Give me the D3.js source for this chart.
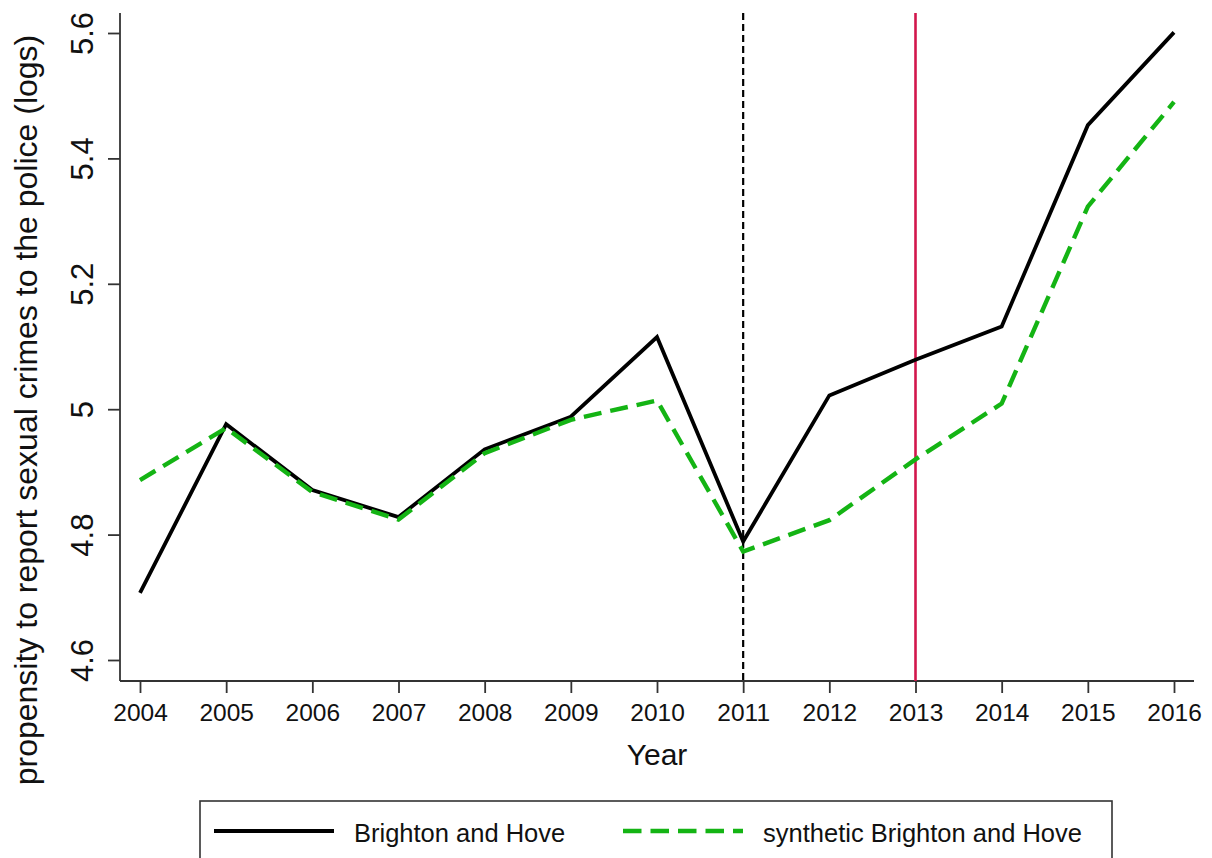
<!DOCTYPE html>
<html>
<head>
<meta charset="utf-8">
<script src="https://cdn.jsdelivr.net/npm/d3@7/dist/d3.min.js"></script>
<style>
  body { margin: 0; background: #fff; }
  svg text { font-family: "Liberation Sans", Arial, Helvetica, sans-serif; fill: #111; }
</style>
</head>
<body>
<svg id="chart" width="1212" height="858"></svg>
<script>
(function() {
  'use strict';

  var years = [2004, 2005, 2006, 2007, 2008, 2009, 2010, 2011, 2012, 2013, 2014, 2015, 2016];
  var brighton = [4.707, 4.976, 4.871, 4.828, 4.936, 4.988, 5.115, 4.789, 5.022, 5.079, 5.132, 5.453, 5.601];
  var synthetic = [4.887, 4.970, 4.868, 4.824, 4.930, 4.983, 5.014, 4.773, 4.823, 4.920, 5.009, 5.323, 5.490];
  var yTicks = [4.6, 4.8, 5, 5.2, 5.4, 5.6];
  var treatmentYear = 2011;
  var policyYear = 2013;
  var legendLabels = ['Brighton and Hove', 'synthetic Brighton and Hove'];

  var BLACK = '#000';
  var GREEN = '#14b414';
  var RED = '#d2164c';
  var AXIS = '#333';

  // plot region (axes run the full box, data lives a bit inside it)
  var box = { left: 120, right: 1194, top: 13, bottom: 681 };

  var svg = d3.select('#chart');

  var x = d3.scaleLinear()
    .domain([2004, 2016])
    .range([140, 1174]);

  var y = d3.scaleLinear()
    .domain([4.6, 5.6])
    .range([660, 33]);

  // axis lines
  svg.append('line')
    .attr('x1', box.left).attr('x2', box.left)
    .attr('y1', box.top).attr('y2', box.bottom)
    .attr('stroke', AXIS).attr('stroke-width', 1.8);

  svg.append('line')
    .attr('x1', box.left).attr('x2', box.right)
    .attr('y1', box.bottom).attr('y2', box.bottom)
    .attr('stroke', AXIS).attr('stroke-width', 1.8);

  var xAxis = svg.append('g')
    .attr('transform', 'translate(0,' + box.bottom + ')')
    .call(d3.axisBottom(x)
      .tickValues(years)
      .tickSize(12)
      .tickPadding(11)
      .tickFormat(d3.format('d')));

  xAxis.select('.domain').remove();
  xAxis.selectAll('.tick line').attr('stroke', AXIS).attr('stroke-width', 1.8);
  xAxis.selectAll('.tick text')
    .attr('fill', '#111')
    .style('font-size', '24.5px');

  var yAxis = svg.append('g')
    .attr('transform', 'translate(' + box.left + ',0)')
    .call(d3.axisLeft(y)
      .tickValues(yTicks)
      .tickSize(12)
      .tickFormat(function(d) { return String(d); }));

  yAxis.select('.domain').remove();
  yAxis.selectAll('.tick line').attr('stroke', AXIS).attr('stroke-width', 1.8);
  yAxis.selectAll('.tick text')
    .attr('fill', '#111')
    .attr('x', null)
    .attr('dy', null)
    .attr('text-anchor', 'middle')
    .attr('transform', 'translate(-27,0) rotate(-90)')
    .style('font-size', '31px');

  // axis titles
  svg.append('text')
    .attr('x', (box.left + box.right) / 2)
    .attr('y', 765)
    .attr('text-anchor', 'middle')
    .style('font-size', '30px')
    .text('Year');

  svg.append('text')
    .attr('transform', 'translate(37,410) rotate(-90)')
    .attr('text-anchor', 'middle')
    .style('font-size', '32px')
    .text('propensity to report sexual crimes to the police (logs)');

  // reference lines
  svg.append('line')
    .attr('x1', x(treatmentYear)).attr('x2', x(treatmentYear))
    .attr('y1', box.top).attr('y2', box.bottom)
    .attr('stroke', BLACK)
    .attr('stroke-width', 2.2)
    .attr('stroke-dasharray', '7,4');

  svg.append('line')
    .attr('x1', x(policyYear)).attr('x2', x(policyYear))
    .attr('y1', box.top).attr('y2', box.bottom)
    .attr('stroke', RED)
    .attr('stroke-width', 2.6);

  var line = d3.line()
    .x(function(d) { return x(d[0]); })
    .y(function(d) { return y(d[1]); });

  svg.append('path')
    .datum(d3.zip(years, brighton))
    .attr('d', line)
    .attr('fill', 'none')
    .attr('stroke', BLACK)
    .attr('stroke-width', 3.8)
    .attr('stroke-linejoin', 'miter');

  svg.append('path')
    .datum(d3.zip(years, synthetic))
    .attr('d', line)
    .attr('fill', 'none')
    .attr('stroke', GREEN)
    .attr('stroke-width', 4.4)
    .attr('stroke-dasharray', '18,9');

  // legend (box runs off the bottom edge)
  var legend = svg.append('g').classed('legend', true);

  legend.append('rect')
    .attr('x', 200).attr('y', 801)
    .attr('width', 912).attr('height', 90)
    .attr('fill', '#fff')
    .attr('stroke', AXIS)
    .attr('stroke-width', 1.6);

  var items = [
    { label: legendLabels[0], color: BLACK, width: 3.8, dash: null, x: 214 },
    { label: legendLabels[1], color: GREEN, width: 4.4, dash: '18.5,9', x: 623 }
  ];

  items.forEach(function(item) {
    legend.append('line')
      .attr('x1', item.x).attr('x2', item.x + 120)
      .attr('y1', 831).attr('y2', 831)
      .attr('stroke', item.color)
      .attr('stroke-width', item.width)
      .attr('stroke-dasharray', item.dash);

    legend.append('text')
      .attr('x', item.x + 140)
      .attr('y', 842)
      .style('font-size', '25.5px')
      .text(item.label);
  });
})();
</script>
</body>
</html>
